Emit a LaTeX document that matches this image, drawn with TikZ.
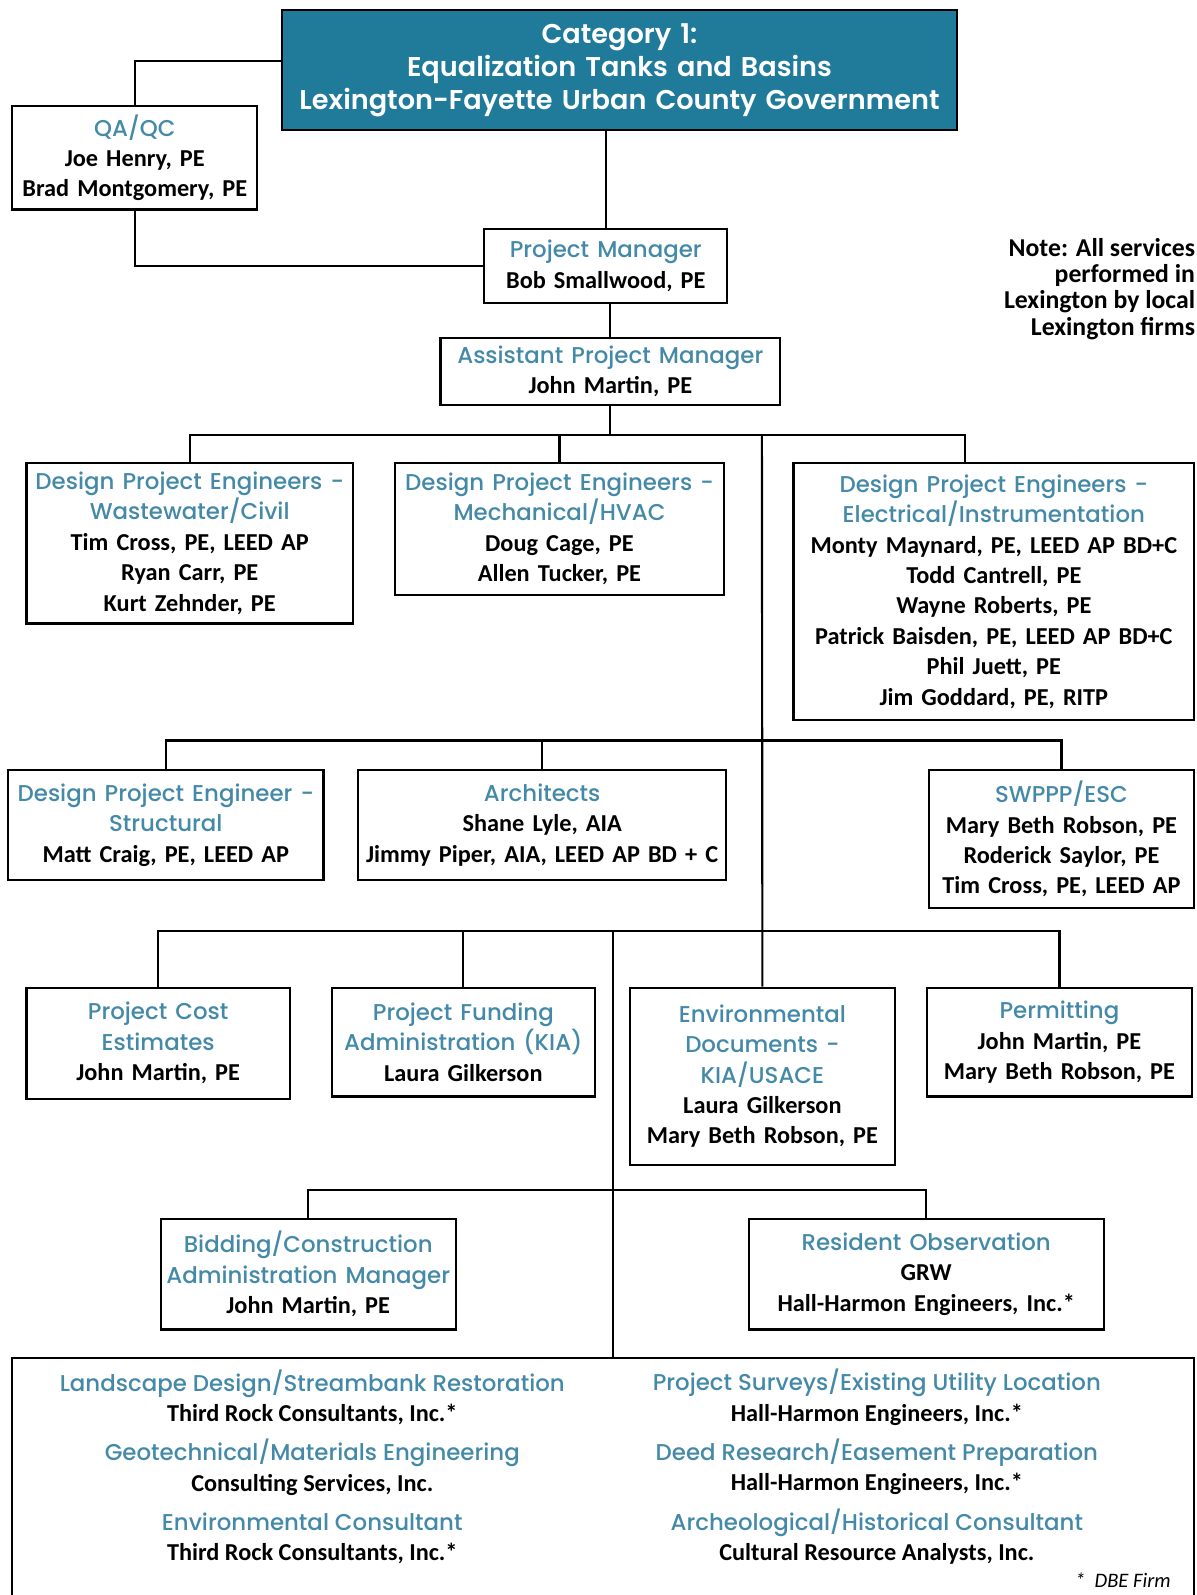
\documentclass[tikz,border=0pt]{standalone}
\usepackage{fontspec}
\setmainfont{Carlito}
\newfontfamily\headfont{Poppins Medium}
\newfontfamily\titlefont{Poppins SemiBold}
\definecolor{titleblue}{RGB}{32,122,154}
\definecolor{headblue}{RGB}{68,138,168}
\newcommand{\hd}[1]{{\headfont\mdseries\fontsize{12.8}{17}\selectfont\color{headblue}#1}}

\begin{document}
\begin{tikzpicture}[x=0.02cm, y=-0.02cm,
    box/.style={draw, line width=1.2pt, fill=white, align=center, inner xsep=0pt, inner ysep=0pt,
      font=\bfseries\fontsize{13.6}{17}\selectfont},
    link/.style={line width=1.2pt}]
  \useasboundingbox (0,0) rectangle (1176,1568);
  % top of the chart
  \node[box, fill=titleblue, text=white, text width=13.28cm, minimum height=2.36cm,
    font=\titlefont\fontsize{15.2}{18.4}\selectfont] (top) at (609,69)
    {Category 1:\\Equalization Tanks and Basins\\Lexington-Fayette Urban County Government};
  \node[box, text width=4.82cm, minimum height=2.04cm] (qa) at (132.5,155)
    {\hd{QA/QC}\\Joe Henry, PE\\Brad Montgomery, PE};
  \node[box, text width=4.78cm, minimum height=1.46cm] (pm) at (595.5,261.5)
    {\hd{Project Manager}\\Bob Smallwood, PE};
  \node[align=right, anchor=east, font=\bfseries\fontsize{14.4}{14.7}\selectfont] (note) at (1181,284)
    {Note: All services\\performed in\\Lexington by local\\Lexington firms};
  \node[box, text width=6.68cm, minimum height=1.32cm] (apm) at (600,365)
    {\hd{Assistant Project Manager}\\John Martin, PE};
  % design engineers
  \node[box, text width=6.42cm, minimum height=3.16cm] (ww) at (186.5,534)
    {\hd{Design Project Engineers -}\\\hd{Wastewater/Civil}\\Tim Cross, PE, LEED AP\\Ryan Carr, PE\\Kurt Zehnder, PE};
  \node[box, text width=6.48cm, minimum height=2.6cm] (mech) at (550,520)
    {\hd{Design Project Engineers -}\\\hd{Mechanical/HVAC}\\Doug Cage, PE\\Allen Tucker, PE};
  \node[box, text width=7.88cm, minimum height=5.06cm] (elec) at (977,581.5)
    {\hd{Design Project Engineers -}\\\hd{Electrical/Instrumentation}\\Monty Maynard, PE, LEED AP BD+C\\Todd Cantrell, PE\\Wayne Roberts, PE\\Patrick Baisden, PE, LEED AP BD+C\\Phil Juett, PE\\Jim Goddard, PE, RITP};
  \node[box, text width=6.2cm, minimum height=2.16cm] (struct) at (163,811)
    {\hd{Design Project Engineer -}\\\hd{Structural}\\Matt Craig, PE, LEED AP};
  \node[box, text width=7.24cm, minimum height=2.16cm] (arch) at (533,811)
    {\hd{Architects}\\Shane Lyle, AIA\\Jimmy Piper, AIA, LEED AP BD + C};
  \node[box, text width=5.22cm, minimum height=2.72cm] (swppp) at (1043.5,825)
    {\hd{SWPPP/ESC}\\Mary Beth Robson, PE\\Roderick Saylor, PE\\Tim Cross, PE, LEED AP};
  % support
  \node[box, text width=5.18cm, minimum height=2.18cm] (cost) at (155.5,1025.5)
    {\hd{Project Cost}\\\hd{Estimates}\\John Martin, PE};
  \node[box, text width=5.18cm, minimum height=2.14cm] (fund) at (455.5,1024.5)
    {\hd{Project Funding}\\\hd{Administration (KIA)}\\Laura Gilkerson};
  \node[box, text width=5.22cm, minimum height=3.48cm] (env) at (749.5,1058)
    {\hd{Environmental}\\\hd{Documents -}\\\hd{KIA/USACE}\\Laura Gilkerson\\Mary Beth Robson, PE};
  \node[box, text width=5.22cm, minimum height=2.14cm] (permit) at (1041.5,1024.5)
    {\hd{Permitting}\\John Martin, PE\\Mary Beth Robson, PE};
  \node[box, text width=5.8cm, minimum height=2.18cm] (bid) at (303,1252.5)
    {\hd{Bidding/Construction}\\\hd{Administration Manager}\\John Martin, PE};
  \node[box, text width=6.98cm, minimum height=2.18cm] (res) at (910.5,1252.5)
    {\hd{Resident Observation}\\GRW\\Hall-Harmon Engineers, Inc.*};
  % subconsultants
  \node[box, text width=23.24cm, minimum height=4.8cm] (firms) at (593,1455) {};
  \node[align=center, font=\bfseries\fontsize{13.6}{17}\selectfont] (firmsl) at (307,1442)
    {\hd{Landscape Design/Streambank Restoration}\\Third Rock Consultants, Inc.*\\[5pt]
     \hd{Geotechnical/Materials Engineering}\\Consulting Services, Inc.\\[5pt]
     \hd{Environmental Consultant}\\Third Rock Consultants, Inc.*};
  \node[align=center, font=\bfseries\fontsize{13.6}{17}\selectfont] (firmsr) at (862,1442)
    {\hd{Project Surveys/Existing Utility Location}\\Hall-Harmon Engineers, Inc.*\\[5pt]
     \hd{Deed Research/Easement Preparation}\\Hall-Harmon Engineers, Inc.*\\[5pt]
     \hd{Archeological/Historical Consultant}\\Cultural Resource Analysts, Inc.};
  \node[anchor=east, font=\itshape\fontsize{11.5}{13}\selectfont] (dbe) at (1157,1553) {*\ \ DBE Firm};
  % bus lines
  \coordinate (b1) at (749,428);
  \coordinate (b2) at (749,728);
  \coordinate (b3) at (749,915);
  \coordinate (b4) at (603,1170);
  \begin{scope}[link]
    \draw (qa.north) |- ([yshift=0.18cm]top.west);
    \draw (qa.south) |- (pm.west);
    \draw (pm.north) -- (pm.north |- top.south);
    \draw (apm.north) -- (apm.north |- pm.south);
    \draw (apm.south) |- (b1);
    \draw (ww.north) |- (b1);
    \draw (mech.north) |- (b1);
    \draw ([xshift=-0.56cm]elec.north) |- (b1);
    \draw (b1) -- (env.north);
    \draw (struct.north) |- (b2);
    \draw (arch.north) |- (b2);
    \draw (swppp.north) |- (b2);
    \draw (cost.north) |- (b3);
    \draw (fund.north) |- (b3);
    \draw (permit.north) |- (b3);
    \draw (b4 |- b3) -- (b4 |- firms.north);
    \draw (bid.north) |- (b4);
    \draw (res.north) |- (b4);
  \end{scope}
\end{tikzpicture}
\end{document}
